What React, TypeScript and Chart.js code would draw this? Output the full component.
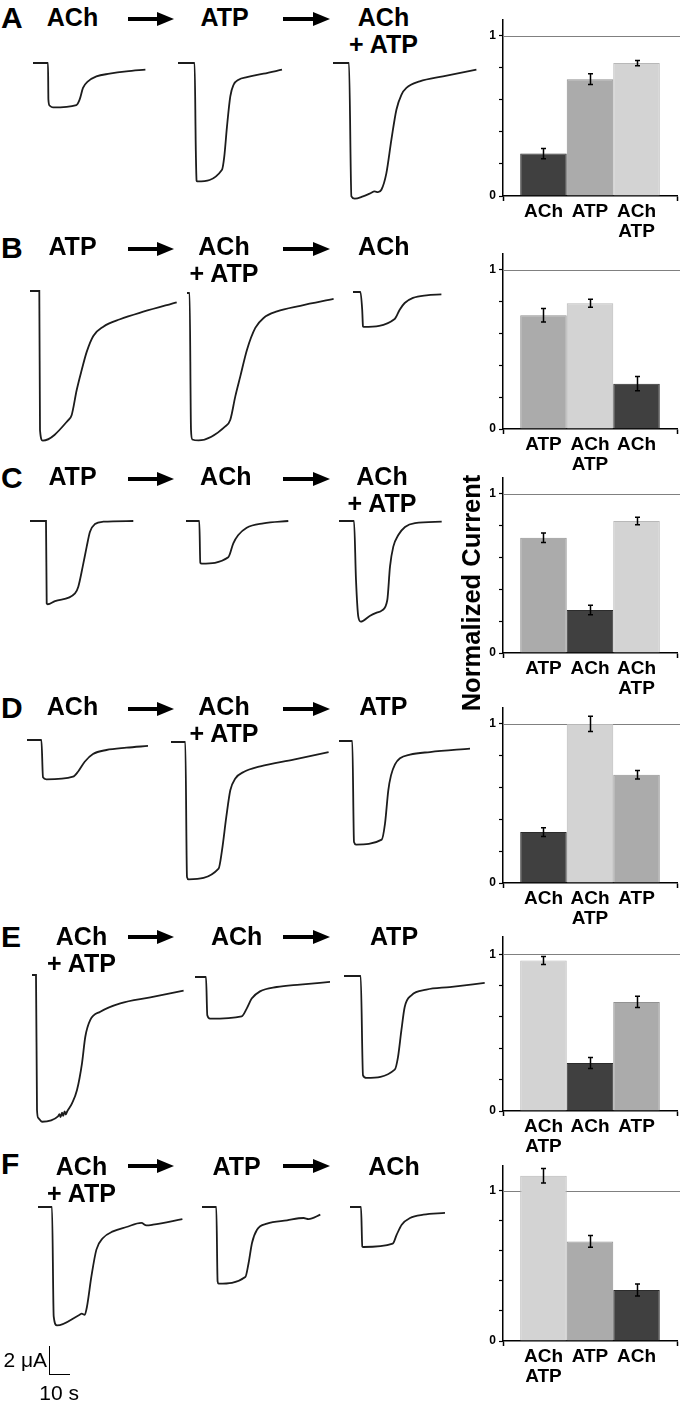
import React, { useEffect, useRef } from 'react';
import { Chart, registerables } from 'chart.js';

Chart.register(...registerables);

const FONT = '"Liberation Sans", Arial, Helvetica, sans-serif';
const PX_PER_S = 2;      // 10 s scale bar = 20 px
const PX_PER_UA = 14.5;  // 2 µA scale bar = 29 px

type Pt = [number, number]; // [time (s), current (µA)]

// ---------- current traces (time s, current µA) ----------
const TRACE_A1: Pt[] = [[0, 0], [7.5, 0], [7.7, -2.53], [8.3, -2.94], [10, -3.06], [21.7, -2.9], [23.3, -2.53], [25, -1.72], [27.5, -1.27], [31.7, -0.92], [38.3, -0.74], [46.7, -0.58], [56.2, -0.46]];
const TRACE_A2: Pt[] = [[0, 0], [8.3, 0], [8.9, -5.98], [9.3, -8.12], [9.65, -8.17], [22, -7.36], [23.15, -6.44], [24.5, -4.37], [26.15, -2.3], [27.8, -1.5], [30.3, -1.15], [34.5, -0.97], [42.8, -0.74], [52, -0.46]];
const TRACE_A3: Pt[] = [[0, 0], [8, 0], [9.2, -9.2], [10.85, -9.36], [15, -9.2], [18.35, -9.01], [20.85, -8.86], [22.5, -8.9], [24.2, -8.74], [26.7, -7.59], [29.2, -5.29], [31.7, -3.22], [34.2, -2.19], [36.7, -1.72], [43.35, -1.27], [55, -0.92], [71.7, -0.46]];

const TRACE_B1: Pt[] = [[0, 0], [4.65, 0], [5, -9.59], [6.35, -10.32], [19.15, -8.9], [20.85, -8.55], [23.35, -6.83], [25.85, -5.45], [28.35, -4.2], [31.65, -3.1], [36.65, -2.46], [45, -1.95], [56.65, -1.43], [73.35, -0.78]];
const TRACE_B2: Pt[] = [[0, 0], [1.3, 0], [2, -9.43], [2.65, -10.1], [5.8, -10.17], [19.15, -9.2], [21.65, -8.74], [24.15, -7.13], [26.65, -5.75], [30, -3.91], [34.15, -2.41], [38.3, -1.72], [45, -1.27], [56.65, -0.88], [73.3, -0.41]];
const TRACE_B3: Pt[] = [[0, 0], [3.7, 0], [4.6, -1.22], [5, -2.37], [5.35, -2.41], [20.85, -1.86], [23.35, -1.22], [25.85, -0.76], [30, -0.41], [36.7, -0.23], [44.2, -0.17]];

const TRACE_C1: Pt[] = [[0, 0], [8, 0], [8.35, -5.68], [8.85, -5.74], [12.5, -5.52], [22.5, -4.99], [24.15, -4.53], [26.35, -3.15], [28.35, -1.77], [30, -0.74], [32.5, -0.21], [36.65, -0.05], [51.65, 0]];
const TRACE_C2: Pt[] = [[0, 0], [6.65, 0], [7.15, -2.88], [7.85, -2.94], [21.15, -2.5], [23.65, -1.54], [26.15, -0.97], [30.35, -0.46], [38.65, -0.16], [51.15, 0]];
const TRACE_C3: Pt[] = [[0, 0], [7.5, 0], [8.5, -4.07], [9.65, -6.6], [10.85, -6.94], [15.35, -6.55], [18.85, -6.32], [21.35, -6.18], [24.15, -5.45], [25.5, -3.15], [27.15, -1.77], [29.65, -0.97], [33, -0.41], [38, -0.14], [51.35, -0.05]];

const TRACE_D1: Pt[] = [[0, 0], [7.2, 0], [8, -2.57], [9.7, -2.71], [23, -2.53], [25.5, -2.19], [28.85, -1.5], [33, -0.97], [39.7, -0.69], [49.7, -0.53], [60.5, -0.41]];
const TRACE_D2: Pt[] = [[0, 0], [7.15, 0], [8, -9.31], [8.8, -9.47], [23.8, -8.73], [25.5, -7.47], [27.65, -5.17], [29.65, -3.33], [32.15, -2.52], [36.3, -2.07], [44.65, -1.68], [61.3, -1.21], [78.8, -0.69]];
const TRACE_D3: Pt[] = [[0, 0], [6.65, 0], [7.5, -6.97], [8.5, -7.14], [21.35, -6.8], [23, -5.7], [24.65, -3.4], [26, -2.37], [28, -1.61], [30.5, -1.19], [35.5, -0.94], [45.5, -0.76], [65.5, -0.52]];

const TRACE_E1: Pt[] = [[0, 0], [2, 0], [2.5, -9.31], [3.15, -9.86], [5, -10.12], [13, -9.75], [13.7, -9.6], [14.3, -9.8], [15, -9.5], [15.6, -9.72], [16.3, -9.4], [16.9, -9.62], [17.5, -9.43], [20, -8.85], [22.5, -7.93], [25, -6.09], [26.65, -4.26], [29.15, -3.1], [34.15, -2.53], [44.15, -1.95], [59.15, -1.54], [75.8, -1.08]];
const TRACE_E2: Pt[] = [[0, 0], [5.5, 0], [6.15, -2.64], [7.5, -2.87], [23.35, -2.71], [25.85, -2.18], [28.35, -1.49], [32.5, -0.99], [40.85, -0.69], [52.5, -0.52], [67.5, -0.34]];
const TRACE_E3: Pt[] = [[0, 0], [8.35, 0], [9.5, -6.85], [11.2, -7.03], [25.35, -6.46], [27, -5.59], [28.7, -3.74], [30.35, -2.14], [33.7, -1.33], [41.2, -0.94], [52.85, -0.76], [70.35, -0.48]];

const TRACE_F1: Pt[] = [[0, 0], [7, 0], [7.85, -7.54], [9.5, -8.17], [20.85, -7.43], [21.85, -7.36], [23.35, -7.43], [24.5, -6.86], [26.7, -4.79], [29.2, -2.94], [32.5, -2.14], [37.5, -1.68], [44.2, -1.38], [51.7, -1.1], [54.2, -1.27], [57.5, -1.22], [72.2, -0.83]];
const TRACE_F2: Pt[] = [[0, 0], [7.15, 0], [7.8, -5.13], [8.3, -5.29], [21.65, -4.83], [23.3, -3.86], [25, -2.48], [27.5, -1.57], [32.5, -1.15], [42.5, -0.92], [50.8, -0.76], [53.3, -0.83], [59.15, -0.53]];
const TRACE_F3: Pt[] = [[0, 0], [5.5, 0], [6.15, -2.72], [6.65, -2.76], [21.35, -2.53], [23.35, -1.91], [25.85, -1.22], [30, -0.76], [36.65, -0.53], [47.5, -0.41]];

// ---------- normalized current bars ----------
const A_CATS = ['ACh', 'ATP', 'ACh+ATP'];
const A_VALS = [0.265, 0.729, 0.829];
const A_ERRS = [0.032, 0.034, 0.016];

const B_CATS = ['ATP', 'ACh+ATP', 'ACh'];
const B_VALS = [0.715, 0.79, 0.285];
const B_ERRS = [0.043, 0.025, 0.045];

const C_CATS = ['ATP', 'ACh', 'ACh+ATP'];
const C_VALS = [0.725, 0.27, 0.83];
const C_ERRS = [0.03, 0.03, 0.024];

const D_CATS = ['ACh', 'ACh+ATP', 'ATP'];
const D_VALS = [0.32, 1.0, 0.68];
const D_ERRS = [0.028, 0.048, 0.027];

const E_CATS = ['ACh+ATP', 'ACh', 'ATP'];
const E_VALS = [0.96, 0.306, 0.696];
const E_ERRS = [0.025, 0.035, 0.036];

const F_CATS = ['ACh+ATP', 'ATP', 'ACh'];
const F_VALS = [1.1, 0.663, 0.34];
const F_ERRS = [0.049, 0.039, 0.04];

const Y_TICK_LABELS: Record<string, string> = { '0': '0', '1': '1' };

const CAT_STYLE: Record<string, { fill: string; border: string; label: string[] }> = {
  'ACh': { fill: '#404040', border: '#2c2c2c', label: ['ACh'] },
  'ATP': { fill: '#ababab', border: '#929292', label: ['ATP'] },
  'ACh+ATP': { fill: '#d3d3d3', border: '#b8b8b8', label: ['ACh', 'ATP'] },
};

// ---------- layout ----------
const PANELS = [
  {
    letter: 'A', letterTop: 6.7, textTop: 8, arrowY: 19,
    labels: [[72.5, ['ACh']], [224.7, ['ATP']], [383.5, ['ACh', '+ ATP']]] as [number, string[]][],
    traces: [[TRACE_A1, 33.3, 63.3], [TRACE_A2, 177.7, 63.3], [TRACE_A3, 333.3, 63.3]] as [Pt[], number, number][],
    bars: { cats: A_CATS, vals: A_VALS, errs: A_ERRS, axisTop: 20, zeroY: 196, yMax: 1.098 },
  },
  {
    letter: 'B', letterTop: 236.7, textTop: 237, arrowY: 249,
    labels: [[72.5, ['ATP']], [224, ['ACh', '+ ATP']], [383.8, ['ACh']]] as [number, string[]][],
    traces: [[TRACE_B1, 30, 291], [TRACE_B2, 186.7, 293.3], [TRACE_B3, 353.3, 292.3]] as [Pt[], number, number][],
    bars: { cats: B_CATS, vals: B_VALS, errs: B_ERRS, axisTop: 254, zeroY: 429, yMax: 1.1 },
  },
  {
    letter: 'C', letterTop: 466.7, textTop: 467, arrowY: 479,
    labels: [[72.5, ['ATP']], [225.8, ['ACh']], [382, ['ACh', '+ ATP']]] as [number, string[]][],
    traces: [[TRACE_C1, 30, 521], [TRACE_C2, 186, 521], [TRACE_C3, 339, 521]] as [Pt[], number, number][],
    bars: { cats: C_CATS, vals: C_VALS, errs: C_ERRS, axisTop: 478, zeroY: 653, yMax: 1.1 },
  },
  {
    letter: 'D', letterTop: 696.7, textTop: 697, arrowY: 709,
    labels: [[72.5, ['ACh']], [224, ['ACh', '+ ATP']], [383.3, ['ATP']]] as [number, string[]][],
    traces: [[TRACE_D1, 27.3, 740], [TRACE_D2, 170.7, 741.7], [TRACE_D3, 339, 740.7]] as [Pt[], number, number][],
    bars: { cats: D_CATS, vals: D_VALS, errs: D_ERRS, axisTop: 708, zeroY: 883, yMax: 1.1 },
  },
  {
    letter: 'E', letterTop: 926, textTop: 927, arrowY: 937,
    labels: [[81.5, ['ACh', '+ ATP']], [236.7, ['ACh']], [394, ['ATP']]] as [number, string[]][],
    traces: [[TRACE_E1, 31.7, 975], [TRACE_E2, 195, 976.7], [TRACE_E3, 344.3, 975.7]] as [Pt[], number, number][],
    bars: { cats: E_CATS, vals: E_VALS, errs: E_ERRS, axisTop: 937, zeroY: 1111, yMax: 1.11 },
  },
  {
    letter: 'F', letterTop: 1153, textTop: 1157, arrowY: 1166,
    labels: [[81.5, ['ACh', '+ ATP']], [236.7, ['ATP']], [394, ['ACh']]] as [number, string[]][],
    traces: [[TRACE_F1, 38.3, 1207.3], [TRACE_F2, 201.7, 1207.3], [TRACE_F3, 350, 1207.3]] as [Pt[], number, number][],
    bars: { cats: F_CATS, vals: F_VALS, errs: F_ERRS, axisTop: 1166, zeroY: 1341, yMax: 1.165 },
  },
];

// ---------- components ----------
function Trace({ data, x, y }: { data: Pt[]; x: number; y: number }) {
  const ref = useRef<HTMLCanvasElement>(null);
  const pad = 6;
  const above = 10;
  const dur = data[data.length - 1][0];
  const W = Math.ceil(dur * PX_PER_S) + 2 * pad;
  const H = 175;
  const left = Math.round(x) - pad;
  const top = Math.round(y) - above;
  useEffect(() => {
    const chart = new Chart(ref.current as HTMLCanvasElement, {
      type: 'line',
      data: {
        datasets: [{
          data: data.map(([t, i]) => ({ x: t, y: i })),
          borderColor: '#1c1c1c',
          borderWidth: 1.8,
          pointRadius: 0,
          fill: false,
          cubicInterpolationMode: 'monotone',
        }],
      },
      options: {
        animation: false,
        responsive: false,
        events: [],
        layout: { padding: 0 },
        plugins: { legend: { display: false }, tooltip: { enabled: false } },
        scales: {
          x: { type: 'linear', display: false, min: -pad / PX_PER_S, max: (W - pad) / PX_PER_S },
          y: { type: 'linear', display: false, min: -(H - above) / PX_PER_UA, max: above / PX_PER_UA },
        },
      },
    } as any);
    return () => chart.destroy();
  }, []);
  return (
    <canvas ref={ref} width={W} height={H}
      style={{ position: 'absolute', left, top, width: W, height: H }} />
  );
}

const BAR_LEFT = 480;
const BAR_W = 200;
const BAR_PADTOP = 12;
const BAR_PADRIGHT = 3;
const BAR_YAXIS_W = 23;
const BAR_XAXIS_H = 58;
const X_MIN = 0.13;
const X_MAX = 3.87;
const BAR_THICK = (BAR_W - BAR_PADRIGHT - BAR_YAXIS_W) / (X_MAX - X_MIN);

function Bars({ cats, vals, errs, axisTop, zeroY, yMax }:
  { cats: string[]; vals: number[]; errs: number[]; axisTop: number; zeroY: number; yMax: number }) {
  const ref = useRef<HTMLCanvasElement>(null);
  const plotH = zeroY - axisTop;
  const H = BAR_PADTOP + plotH + BAR_XAXIS_H;
  const top = axisTop - BAR_PADTOP;
  useEffect(() => {
    const refLine = {
      id: 'refLine',
      beforeDatasetsDraw(chart: any) {
        const { ctx, chartArea, scales } = chart;
        const py = Math.round(scales.y.getPixelForValue(1)) + 0.5;
        ctx.save();
        ctx.strokeStyle = '#808080';
        ctx.lineWidth = 1.2;
        ctx.beginPath();
        ctx.moveTo(chartArea.left, py);
        ctx.lineTo(chart.width, py);
        ctx.stroke();
        ctx.restore();
      },
    };
    const errorBars = {
      id: 'errorBars',
      afterDatasetsDraw(chart: any) {
        const { ctx, scales } = chart;
        const meta = chart.getDatasetMeta(0);
        ctx.save();
        ctx.strokeStyle = '#000';
        ctx.lineWidth = 1.5;
        meta.data.forEach((bar: any, i: number) => {
          const x = Math.round(bar.x) + 0.5;
          const yt = scales.y.getPixelForValue(vals[i] + errs[i]);
          const yb = scales.y.getPixelForValue(vals[i] - errs[i]);
          ctx.beginPath();
          ctx.moveTo(x, yt); ctx.lineTo(x, yb);
          ctx.moveTo(x - 2.5, yt); ctx.lineTo(x + 2.5, yt);
          ctx.moveTo(x - 2.5, yb); ctx.lineTo(x + 2.5, yb);
          ctx.stroke();
        });
        ctx.restore();
      },
    };
    const chart = new Chart(ref.current as HTMLCanvasElement, {
      type: 'bar',
      data: {
        datasets: [{
          data: vals.map((v, i) => ({ x: i + 1, y: v })),
          backgroundColor: cats.map((c) => CAT_STYLE[c].fill),
          borderColor: cats.map((c) => CAT_STYLE[c].border),
          borderWidth: 1,
          barThickness: BAR_THICK,
          inflateAmount: 0,
        }],
      },
      options: {
        animation: false,
        responsive: false,
        events: [],
        layout: { padding: { top: BAR_PADTOP, right: BAR_PADRIGHT, left: 0, bottom: 0 } },
        plugins: { legend: { display: false }, tooltip: { enabled: false } },
        scales: {
          x: {
            type: 'linear',
            min: X_MIN,
            max: X_MAX,
            offset: false,
            afterBuildTicks: (s: any) => { s.ticks = [X_MIN, 1, 2, 3, X_MAX].map((v) => ({ value: v })); },
            afterFit: (s: any) => { s.height = BAR_XAXIS_H; },
            grid: {
              offset: false,
              drawOnChartArea: false,
              drawTicks: true,
              tickLength: 5,
              tickWidth: 1.5,
              tickColor: (ctx: any) => (ctx.index === 0 || ctx.index === 4 ? '#000' : 'rgba(0,0,0,0)'),
            },
            border: { color: '#000', width: 1.5 },
            ticks: {
              autoSkip: false,
              maxRotation: 0,
              minRotation: 0,
              padding: 1,
              color: '#000',
              font: { family: FONT, size: 19, weight: 'bold', lineHeight: 1.05 },
              callback: (_v: any, i: number) => (i >= 1 && i <= 3 ? CAT_STYLE[cats[i - 1]].label : ''),
            },
          },
          y: {
            type: 'linear',
            min: 0,
            max: yMax,
            afterFit: (s: any) => { s.width = BAR_YAXIS_W; },
            grid: { drawOnChartArea: false, drawTicks: true, tickLength: 4, tickWidth: 1.2, tickColor: '#000' },
            border: { color: '#000', width: 1.5 },
            ticks: {
              stepSize: 0.2,
              includeBounds: false,
              padding: 3,
              color: '#000',
              font: { family: FONT, size: 12, weight: 'bold' },
              callback: (v: any) => {
                const k = String(Math.round(Number(v) * 1000) / 1000);
                return Y_TICK_LABELS[k] ?? '';
              },
            },
          },
        },
      },
      plugins: [refLine, errorBars],
    } as any);
    return () => chart.destroy();
  }, []);
  return (
    <canvas ref={ref} width={BAR_W} height={H}
      style={{ position: 'absolute', left: BAR_LEFT, top, width: BAR_W, height: H }} />
  );
}

function Arrow({ x1, x2, y }: { x1: number; x2: number; y: number }) {
  const w = x2 - x1;
  return (
    <div style={{ position: 'absolute', left: x1, top: y - 7, width: w, height: 14 }}>
      <div style={{ position: 'absolute', left: 0, top: 4.6, width: w - 15, height: 4.8, background: '#000' }} />
      <div style={{
        position: 'absolute', right: 0, top: 0, width: 0, height: 0,
        borderTop: '7px solid transparent', borderBottom: '7px solid transparent', borderLeft: '17px solid #000',
      }} />
    </div>
  );
}

function CondLabel({ cx, capTop, lines }: { cx: number; capTop: number; lines: string[] }) {
  return (
    <div style={{
      position: 'absolute', left: cx - 100, width: 200, top: capTop - 4.3, textAlign: 'center',
      fontSize: 25, fontWeight: 'bold', lineHeight: '27px', whiteSpace: 'pre',
    }}>
      {lines.map((l, i) => <div key={i}>{l}</div>)}
    </div>
  );
}

export default function App() {
  return (
    <div style={{
      position: 'absolute', left: 0, top: 0, width: 680, height: 1402, background: '#fff',
      overflow: 'hidden', fontFamily: FONT, color: '#000',
    }}>
      {PANELS.map((p) => (
        <React.Fragment key={p.letter}>
          <div style={{
            position: 'absolute', left: 1, top: p.letterTop - 4.2, fontSize: 30, fontWeight: 'bold', lineHeight: '30px',
          }}>{p.letter}</div>
          {p.labels.map(([cx, lines], i) => (
            <CondLabel key={i} cx={cx} capTop={p.textTop} lines={lines} />
          ))}
          <Arrow x1={128.3} x2={174} y={p.arrowY} />
          <Arrow x1={283.3} x2={330} y={p.arrowY} />
          {p.traces.map(([d, x, y], i) => <Trace key={i} data={d} x={x} y={y} />)}
          <Bars {...p.bars} />
        </React.Fragment>
      ))}
      <div style={{
        position: 'absolute', left: 470.5 - 150, top: 593.3 - 15, width: 300, height: 30, lineHeight: '30px',
        textAlign: 'center', fontSize: 25.5, fontWeight: 'bold', transform: 'rotate(-90deg)', whiteSpace: 'nowrap',
      }}>Normalized Current</div>
      {/* scale bar */}
      <div style={{
        position: 'absolute', left: 48.5, top: 1346, width: 20, height: 28,
        borderLeft: '1.5px solid #000', borderBottom: '1.5px solid #000',
      }} />
      <div style={{
        position: 'absolute', right: 680 - 47, top: 1349, fontSize: 21, lineHeight: '21px', whiteSpace: 'nowrap',
      }}>2 μA</div>
      <div style={{
        position: 'absolute', left: 39.3, top: 1382, fontSize: 21, lineHeight: '21px', whiteSpace: 'nowrap',
      }}>10 s</div>
    </div>
  );
}
